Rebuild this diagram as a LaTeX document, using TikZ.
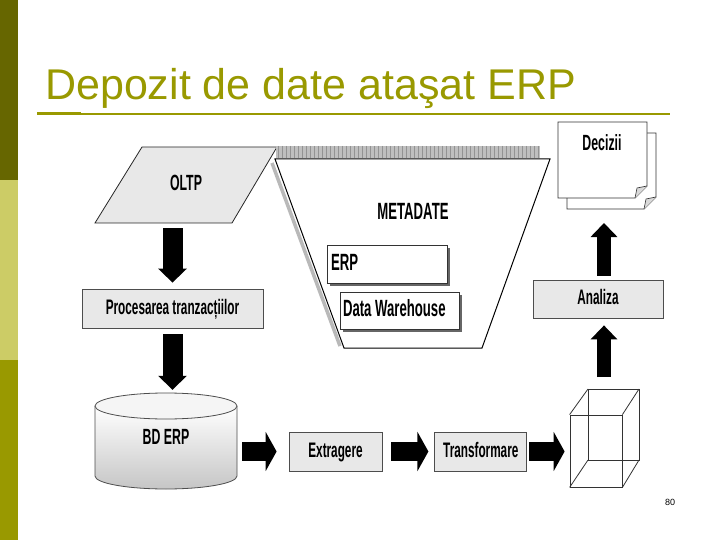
\documentclass[tikz,border=0pt]{standalone}
\usepackage{fontspec}
\setmainfont{Liberation Sans}
\newfontfamily\narrowsf[FakeStretch=0.56]{Liberation Sans}
\usetikzlibrary{arrows.meta, positioning, calc, shadows}
\definecolor{oldark}{HTML}{666600}
\definecolor{ollight}{HTML}{CCCC66}
\definecolor{olmid}{HTML}{999900}
\definecolor{boxgray}{HTML}{E8E8E8}
\definecolor{edgegray}{HTML}{4D4D4D}

\begin{document}
\begin{tikzpicture}[x=1pt, y=-1pt,
  lbl/.style={font=\narrowsf\bfseries\fontsize{21}{22}\selectfont, text=black,
    text height=15pt, text depth=4pt},
  widelbl/.style={lbl, font=\narrowsf\bfseries\fontsize{22}{23}\selectfont},
  biglbl/.style={lbl, font=\narrowsf\bfseries\fontsize{23.5}{24}\selectfont,
    text height=16.5pt, text depth=4.5pt},
  procbox/.style={lbl, draw=edgegray, fill=boxgray, line width=0.8pt, inner sep=0pt},
  metabox/.style={biglbl, draw=black!80, fill=white, line width=0.8pt, inner sep=0pt,
    drop shadow={shadow xshift=3pt, shadow yshift=-3pt, fill=black!60, opacity=1}},
  downarrow/.style={line width=20pt, -{Triangle[length=14pt, width=28pt]}},
  sidearrow/.style={line width=19pt, -{Triangle[length=11pt, width=39pt]}},
  uparrow/.style={line width=14pt, -{Triangle[length=14pt, width=26pt]}},
]

% Background and frame
\useasboundingbox (0,0) rectangle (720,540);
\fill[white] (0,0) rectangle (720,540);
\fill[oldark] (0,0) rectangle (18,180);
\fill[ollight] (0,180) rectangle (18,360);
\fill[olmid] (0,360) rectangle (18,540);

% Title
\node[anchor=base west, inner sep=0pt, font=\fontsize{43}{50}\selectfont, text=olmid] (title)
  at (45,100) {Depozit de date ataşat ERP};
\draw[olmid, line width=1.5pt] (37,114) -- (670,114);
\draw[olmid, line width=3pt] (37,114) -- (81,114);

% === Left column ===
\draw[black!85, fill=boxgray, line width=0.8pt] (142,147) -- (277,147) -- (232,223) -- (95,223) -- cycle;
\node[widelbl, minimum height=76, inner sep=0pt] (oltp) at (186,185) {OLTP};

\node[procbox, minimum width=181, minimum height=39] (proc) at (172.5,308.5)
  {Procesarea tranzacțiilor};

% BD ERP cylinder
\node[minimum width=142, minimum height=96, inner sep=0pt] (bd) at (166,441) {};
\shade[top color=white, bottom color=gray!45] (95,406) -- (95,476)
  arc[start angle=180, end angle=0, x radius=71, y radius=13] -- (237,406) -- cycle;
\draw[edgegray, line width=0.8pt] (95,406) -- (95,476)
  arc[start angle=180, end angle=0, x radius=71, y radius=13] -- (237,406);
\draw[edgegray, fill=gray!8, line width=0.8pt] (166,406) ellipse[x radius=71, y radius=13];
\node[widelbl] (bdlabel) at (166,439) {BD ERP};

% === Metadata funnel ===
\fill[gray!50] (276,146) rectangle (540,158);
\foreach \x in {278,282,...,538}
  \draw[gray!85, line width=0.6pt] (\x,146) -- (\x,158);
\draw[gray!55, line width=3.5pt] (272,163) -- (340,346);
\draw[black, line width=1pt, fill=white] (275,159) -- (550,159) -- (482,348) -- (344,348) -- cycle;
\node[biglbl] (meta) at (413,214) {METADATE};
\node[metabox, minimum width=120, minimum height=38] (erp) at (387,264)
  {\makebox[112pt][l]{ERP}};
\node[metabox, minimum width=119, minimum height=37] (dw) at (399.5,310.5)
  {\makebox[113pt][l]{Data Warehouse}};

% === Bottom row ===
\node[procbox, minimum width=93, minimum height=39] (extr) at (335.5,451.5) {Extragere};
\node[procbox, minimum width=92, minimum height=39, right=52pt of extr] (transf) {Transformare};

% Cube
\node[draw=black!80, line width=0.8pt, minimum width=52, minimum height=72, inner sep=0pt]
  (cube) at (596,451) {};
\draw[black!80, line width=0.8pt] (588,389) rectangle (639,460);
\draw[black!80, line width=0.8pt] (cube.north west) -- (588,389)
  (cube.north east) -- (639,389)
  (cube.south east) -- (639,460)
  (cube.south west) -- (588,460);
\coordinate (cubetop) at (604,389);

% === Right column ===
\node[procbox, minimum width=130, minimum height=38] (analiza) at (598,299) {Analiza};

% Decizii documents
\draw[black!80, fill=white, line width=0.8pt]
  (567,133) -- (656,133) -- (656,197) -- (644,209) -- (567,209) -- cycle;
\draw[black!80, fill=gray!30, line width=0.6pt] (656,197) -- (646,199) -- (644,209);
\draw[black!80, fill=white, line width=0.8pt]
  (558,122) -- (647,122) -- (647,186) -- (635,198) -- (558,198) -- cycle;
\draw[black!80, fill=gray!30, line width=0.6pt] (647,186) -- (637,188) -- (635,198);
\node[widelbl] (dec) at (602,145) {Decizii};
\coordinate (decbot) at (604,209);

% === Block arrows ===
\draw[downarrow, shorten <=5pt, shorten >=6pt] (oltp.south -| proc.north) -- (proc.north);
\draw[downarrow, shorten <=6pt, shorten >=3pt] (proc.south) -- (proc.south |- bd.north);
\draw[sidearrow, shorten <=5pt, shorten >=12pt] (bd.east |- extr.west) -- (extr.west);
\draw[sidearrow, shorten <=9pt, shorten >=6pt] (extr.east) -- (transf.west);
\draw[sidearrow, shorten <=2pt, shorten >=5pt] (transf.east) -- (transf.east -| cube.west);
\draw[uparrow, shorten <=12pt, shorten >=7pt] (cubetop) -- (cubetop |- analiza.south);
\draw[uparrow, shorten <=4pt, shorten >=14pt] (analiza.north -| decbot) -- (decbot);

% Page number
\node[font=\fontsize{9}{10}\selectfont] (pagenum) at (670,502) {80};

\end{tikzpicture}
\end{document}
